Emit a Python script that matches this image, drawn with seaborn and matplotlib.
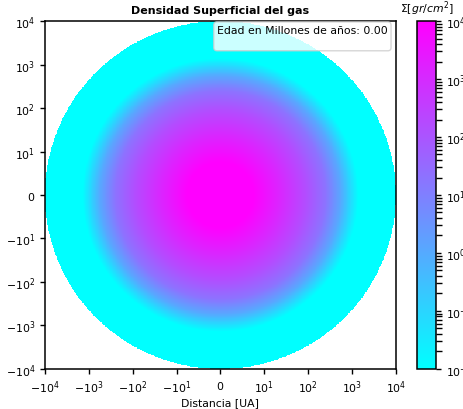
import numpy as np
import matplotlib
matplotlib.use("Agg")
import matplotlib.pyplot as plt
import seaborn as sns
from matplotlib.colors import LogNorm

# ---- data (radial surface-density profile) ----
radius_au = [0.0, 7.5, 23.0, 87.0, 250.0, 550.0, 930.0, 1400.0, 10000.0]
sigma_gcm2 = [2e4, 1e4, 1.3e3, 160.0, 20.0, 1.2, 0.08, 0.01, 1e-4]
age_myr = 0.00
axis_ticks = [-1e4, -1e3, -1e2, -1e1, 0, 1e1, 1e2, 1e3, 1e4]
cbar_ticks = [1e-2, 1e-1, 1e0, 1e1, 1e2, 1e3, 1e4]

sns.set_theme(style="ticks")
plt.rcParams["font.family"] = ["DejaVu Sans"]
plt.rcParams.update({
    "axes.edgecolor": "black", "axes.linewidth": 1.1,
    "xtick.color": "black", "ytick.color": "black",
    "xtick.major.size": 3.5, "ytick.major.size": 3.5,
    "xtick.major.width": 1.0, "ytick.major.width": 1.0,
    "font.size": 7.8, "axes.labelcolor": "black", "text.color": "black",
})

LINTHRESH = 10.0
RMAX = 1e4

def fwd(v):
    v = np.asarray(v, dtype=float)
    a = np.abs(v)
    return np.sign(v) * np.where(a <= LINTHRESH, a / LINTHRESH, np.log10(np.maximum(a, LINTHRESH)))

def inv(s):
    s = np.asarray(s, dtype=float)
    a = np.abs(s)
    return np.sign(s) * np.where(a <= 1, a * LINTHRESH, 10.0 ** a)

smax = float(fwd(RMAX))
N = 600
s_edges = np.linspace(-smax, smax, N + 1)
s_cent = 0.5 * (s_edges[1:] + s_edges[:-1])
SU, SV = np.meshgrid(s_cent, s_cent)
D = np.sqrt(SU ** 2 + SV ** 2)
logS = np.interp(D, fwd(radius_au), np.log10(sigma_gcm2))
Z = np.ma.masked_where(D > smax, 10.0 ** logS)
XE, YE = np.meshgrid(inv(s_edges), inv(s_edges))

fig = plt.figure(figsize=(4.63, 4.10), dpi=100)
ax = fig.add_axes([0.097, 0.098, 0.758, 0.848])
cax = fig.add_axes([0.901, 0.098, 0.041, 0.848])

cmap = sns.color_palette("cool", as_cmap=True)
norm = LogNorm(vmin=1e-2, vmax=1e4)
mesh = ax.pcolormesh(XE, YE, Z, cmap=cmap, norm=norm, shading="flat", rasterized=True)

ax.set_xscale("symlog", linthresh=LINTHRESH, linscale=0.9)
ax.set_yscale("symlog", linthresh=LINTHRESH, linscale=0.9)
ax.set_xlim(-RMAX, RMAX)
ax.set_ylim(-RMAX, RMAX)
ax.set_xticks(axis_ticks)
ax.set_yticks(axis_ticks)
for sp in ax.spines.values():
    sp.set_visible(True)
ax.set_facecolor("white")

ax.set_title("Densidad Superficial del gas", fontsize=8, fontweight="bold", pad=6)
ax.set_xlabel("Distancia [UA]", fontsize=7.8, labelpad=1.5)
for lab in ax.get_xticklabels() + ax.get_yticklabels():
    lab.set_fontsize(7.8)

ax.text(0.977, 0.9885, f"Edad en Millones de años: {age_myr:.2f}\n", transform=ax.transAxes,
        ha="right", va="top", fontsize=7.8, linespacing=1.3,
        bbox=dict(boxstyle="round,pad=0.3", fc="white", ec="0.8", alpha=0.8))

cb = fig.colorbar(mesh, cax=cax)
cb.set_ticks(cbar_ticks)
cb.ax.tick_params(labelsize=7.8, length=3.5, width=1.0)
cb.outline.set_linewidth(1.1)
cb.outline.set_edgecolor("black")
cax.set_title(r"$\Sigma[gr/cm^2]$", fontsize=7.8, pad=7)

fig.savefig("out.png", dpi=100)
